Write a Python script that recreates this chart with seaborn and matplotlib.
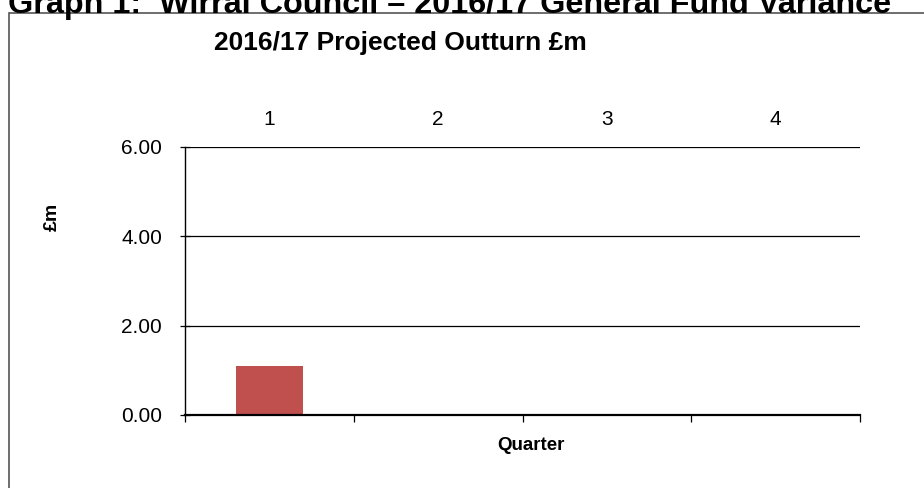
import matplotlib
matplotlib.use("Agg")
import matplotlib.pyplot as plt
import seaborn as sns
import pandas as pd
from matplotlib.patches import Rectangle

quarters = ["1", "2", "3", "4"]
outturn = [1.10, -0.03, -0.03, -0.03]
yticks = [0.0, 2.0, 4.0, 6.0]

sns.set_style("white")
plt.rcParams['font.family'] = ['Liberation Sans', 'DejaVu Sans']
plt.rcParams['text.color'] = 'black'
plt.rcParams['xtick.color'] = 'black'
plt.rcParams['ytick.color'] = 'black'

fig = plt.figure(figsize=(9.24, 4.88), dpi=100)
ax = fig.add_axes([185/924, 1-415/488, (860-185)/924, (415-147)/488])

df = pd.DataFrame({"Quarter": quarters, "Outturn": outturn})
sns.barplot(data=df, x="Quarter", y="Outturn", color="#C0504D", width=0.4,
            saturation=1, ax=ax, edgecolor="none")
for p in ax.patches:
    p.set_clip_on(False)
    if p.get_height() < 0:
        p.set_facecolor("#9E3A38")

ax.set_ylim(0, 6)
ax.set_xlim(-0.5, 3.5)
ax.set_yticks(yticks)
ax.set_yticklabels([f"{v:.2f}" for v in yticks], fontsize=15)
for v in yticks[1:]:
    ax.axhline(v, color="black", lw=0.9, zorder=0)

ax.set_xticks(range(len(quarters)))
ax.set_xticklabels(quarters, fontsize=15)
ax.tick_params(axis="x", which="major", length=0, labeltop=True, labelbottom=False, pad=13)
ax.set_xticks([-0.5, 0.5, 1.5, 2.5, 3.5], minor=True)
ax.tick_params(axis="x", which="minor", length=5, width=0.9, color="black", bottom=True)
ax.tick_params(axis="y", length=7, width=0.9, color="black", left=True, direction="inout", pad=13)

for s in ["top", "right"]:
    ax.spines[s].set_visible(False)
ax.spines["left"].set_color("black")
ax.spines["bottom"].set_color("black")
ax.spines["bottom"].set_linewidth(1.6)
ax.spines["left"].set_linewidth(1.0)
ax.spines["bottom"].set_zorder(1)

ax.set_xlabel("")
ax.set_ylabel("")

fig.text(531/924, 1-445/488, "Quarter", ha="center", va="center", fontsize=13.5, fontweight="bold")
fig.text(52/924, 1-217/488, "£m", ha="center", va="center", fontsize=14, fontweight="bold", rotation=90)
fig.text(400/924, 1-43/488, "2016/17 Projected Outturn £m", ha="center", va="center", fontsize=19, fontweight="bold")
fig.text(8/924, 1-13/488, "Graph 1:  Wirral Council – 2016/17 General Fund Variance", ha="left", va="baseline",
         fontsize=23.3, fontweight="bold")

fig.patches.append(Rectangle((9/924, -0.01), 1.0, (488-13)/488 + 0.01, transform=fig.transFigure,
                             fill=False, edgecolor="#555555", lw=1.2))

fig.savefig("out.png", dpi=100)
